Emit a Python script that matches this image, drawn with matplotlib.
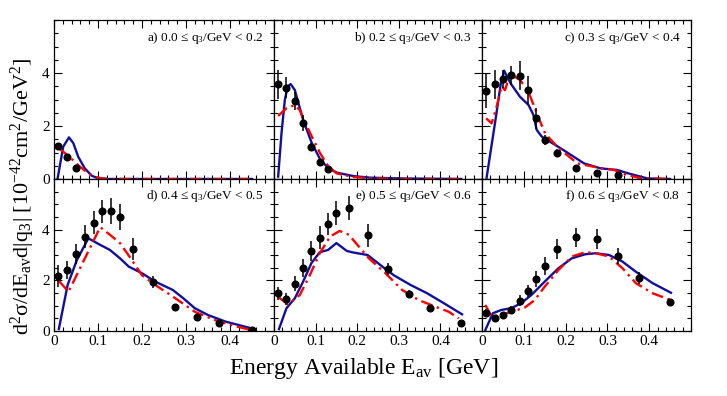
import numpy as np
import matplotlib.pyplot as plt
from matplotlib.ticker import MultipleLocator

plt.rcParams['font.family'] = ['Liberation Serif', 'DejaVu Serif']
plt.rcParams['mathtext.fontset'] = 'custom'
plt.rcParams['mathtext.rm'] = 'Liberation Serif'
plt.rcParams['mathtext.it'] = 'Liberation Serif:italic'

#-----------------------------------------------------------------------------------------#
# data

e_av = [0.01, 0.03, 0.05, 0.07, 0.09, 0.11, 0.13, 0.15, 0.18, 0.225, 0.275, 0.325, 0.375, 0.45]

labels = ['a) 0.0 ≤ q$_3$/GeV < 0.2', 'b) 0.2 ≤ q$_3$/GeV < 0.3', 'c) 0.3 ≤ q$_3$/GeV < 0.4',
          'd) 0.4 ≤ q$_3$/GeV < 0.5', 'e) 0.5 ≤ q$_3$/GeV < 0.6', 'f) 0.6 ≤ q$_3$/GeV < 0.8']

data_a = [1.25, 0.83, 0.41]
err_a = [0.10, 0.08, 0.05]
data_b = [3.58, 3.45, 2.94, 2.10, 1.22, 0.65, 0.37]
err_b = [0.55, 0.40, 0.35, 0.30, 0.15, 0.08, 0.05]
data_c = [3.32, 3.57, 3.78, 3.91, 3.89, 3.35, 2.29, 1.47, 1.00, 0.43, 0.24, 0.15]
err_c = [0.65, 0.55, 0.35, 0.35, 0.55, 0.55, 0.40, 0.20, 0.12, 0.06, 0.04, 0.03]
data_d = [2.17, 2.41, 3.03, 3.73, 4.28, 4.72, 4.74, 4.50, 3.24, 1.95, 0.93, 0.54, 0.30, 0.05]
err_d = [0.43, 0.35, 0.40, 0.45, 0.45, 0.46, 0.50, 0.53, 0.45, 0.24, 0.06, 0.05, 0.04, 0.03]
data_e = [1.49, 1.26, 1.86, 2.50, 3.16, 3.69, 4.22, 4.65, 4.85, 3.77, 2.44, 1.46, 0.90, 0.33]
err_e = [0.25, 0.25, 0.30, 0.35, 0.40, 0.45, 0.45, 0.48, 0.48, 0.44, 0.24, 0.15, 0.10, 0.05]
data_f = [0.70, 0.53, 0.63, 0.84, 1.19, 1.58, 2.04, 2.57, 3.24, 3.70, 3.62, 2.96, 2.08, 1.16]
err_f = [0.15, 0.10, 0.12, 0.13, 0.22, 0.25, 0.32, 0.36, 0.41, 0.38, 0.40, 0.33, 0.23, 0.10]

# blue solid model
blue_x_a = [0.008, 0.021, 0.034, 0.044, 0.055, 0.07, 0.086, 0.1, 0.125, 0.45]
blue_y_a = [0.0, 1.22, 1.57, 1.35, 0.84, 0.40, 0.12, 0.03, 0.0, 0.0]
blue_x_b = [0.01, 0.018, 0.026, 0.033, 0.04, 0.05, 0.07, 0.091, 0.111, 0.131, 0.151, 0.191, 0.231, 0.31, 0.45]
blue_y_b = [0.09, 1.72, 2.98, 3.5, 3.58, 3.36, 2.23, 1.35, 0.74, 0.40, 0.24, 0.11, 0.05, 0.02, 0.0]
blue_x_c = [0.011, 0.031, 0.045, 0.053, 0.062, 0.071, 0.091, 0.111, 0.123, 0.131, 0.143, 0.195,
            0.244, 0.284, 0.324, 0.348, 0.396, 0.45]
blue_y_c = [0.05, 2.1, 3.6, 4.09, 3.8, 3.55, 3.1, 2.8, 2.42, 1.85, 1.6, 1.09, 0.59, 0.4, 0.34, 0.22, 0.02, 0.0]
blue_x_d = [0.011, 0.031, 0.052, 0.078, 0.105, 0.127, 0.15, 0.17, 0.2, 0.23, 0.27, 0.294, 0.32, 0.35, 0.39, 0.45]
blue_y_d = [0.08, 1.82, 2.8, 3.66, 3.4, 3.2, 2.87, 2.54, 2.28, 1.95, 1.62, 1.29, 0.9, 0.63, 0.37, 0.1]
blue_x_e = [0.012, 0.03, 0.05, 0.07, 0.09, 0.11, 0.13, 0.15, 0.175, 0.19, 0.225, 0.256, 0.288, 0.328,
            0.368, 0.408, 0.452]
blue_y_e = [0.08, 0.9, 1.29, 1.95, 2.68, 3.11, 3.2, 3.47, 3.16, 3.1, 3.0, 2.6, 2.2, 1.82, 1.49, 1.1, 0.66]
blue_x_f = [0.008, 0.026, 0.046, 0.07, 0.094, 0.118, 0.15, 0.183, 0.215, 0.247, 0.272, 0.304, 0.336,
            0.368, 0.408, 0.452]
blue_y_f = [0.04, 0.7, 0.83, 0.9, 1.1, 1.42, 1.95, 2.48, 2.87, 3.03, 3.07, 3.0, 2.74, 2.34, 1.89, 1.51]

# red dash-dot model
red_x_a = [0.011, 0.035, 0.057, 0.08, 0.1, 0.12, 0.45]
red_y_a = [1.16, 0.84, 0.49, 0.19, 0.05, 0.0, 0.0]
red_x_b = [0.01, 0.03, 0.05, 0.062, 0.07, 0.091, 0.111, 0.131, 0.151, 0.19, 0.231, 0.3, 0.45]
red_y_b = [2.38, 2.67, 2.79, 2.6, 2.29, 1.6, 0.97, 0.47, 0.21, 0.08, 0.03, 0.0, 0.0]
red_x_c = [0.01, 0.023, 0.035, 0.047, 0.055, 0.065, 0.071, 0.091, 0.111, 0.131, 0.151, 0.18, 0.204,
           0.228, 0.268, 0.316, 0.348, 0.38, 0.45]
red_y_c = [2.29, 2.1, 2.73, 3.5, 3.35, 3.85, 3.92, 3.74, 3.3, 2.48, 1.72, 1.22, 0.9, 0.59, 0.46, 0.34,
           0.15, 0.03, 0.0]
red_x_d = [0.011, 0.033, 0.105, 0.127, 0.15, 0.177, 0.2, 0.23, 0.276, 0.32, 0.366, 0.41, 0.45]
red_y_d = [1.98, 1.55, 4.1, 3.8, 3.47, 2.8, 2.2, 1.82, 1.29, 0.76, 0.43, 0.2, 0.03]
red_x_e = [0.012, 0.034, 0.062, 0.086, 0.11, 0.135, 0.158, 0.18, 0.204, 0.228, 0.268, 0.308, 0.348,
           0.388, 0.42, 0.444]
red_y_e = [1.32, 1.05, 1.42, 2.2, 3.07, 3.73, 3.95, 3.8, 3.33, 2.87, 2.28, 1.62, 1.22, 0.96, 0.76, 0.5]
red_x_f = [0.008, 0.023, 0.047, 0.07, 0.102, 0.126, 0.15, 0.183, 0.215, 0.247, 0.272, 0.304, 0.336,
           0.368, 0.408, 0.452]
red_y_f = [1.03, 0.57, 0.63, 0.76, 0.92, 1.22, 1.75, 2.41, 2.94, 3.11, 3.07, 2.94, 2.48, 1.89, 1.49, 1.22]

#-----------------------------------------------------------------------------------------#

panels = [
    (data_a, err_a, blue_x_a, blue_y_a, red_x_a, red_y_a),
    (data_b, err_b, blue_x_b, blue_y_b, red_x_b, red_y_b),
    (data_c, err_c, blue_x_c, blue_y_c, red_x_c, red_y_c),
    (data_d, err_d, blue_x_d, blue_y_d, red_x_d, red_y_d),
    (data_e, err_e, blue_x_e, blue_y_e, red_x_e, red_y_e),
    (data_f, err_f, blue_x_f, blue_y_f, red_x_f, red_y_f),
]

W, H = 727, 396
cols = [(54, 274), (274, 482), (482, 691)]
rows = [(20, 179), (179, 331)]

fig = plt.figure(figsize=(W / 100, H / 100), dpi=100)

for i, (data, err, bx, by, rx, ry) in enumerate(panels):
    r, c = divmod(i, 3)
    x0, x1 = cols[c]
    y0, y1 = rows[r]
    ax = fig.add_axes([x0 / W, 1 - y1 / H, (x1 - x0) / W, (y1 - y0) / H])
    ax.plot(bx, by, color='#10109c', lw=1.7, zorder=2)
    ax.plot(rx, ry, color='red', lw=1.7, ls=(0, (5, 2, 1, 2)), zorder=2)
    ax.errorbar(e_av[:len(data)], data, yerr=err, fmt='o', color='black', ms=4.8,
                elinewidth=1.1, capsize=0, zorder=3)
    ax.set_xlim(0, 0.5)
    ax.set_ylim(0, 6)
    ax.xaxis.set_major_locator(MultipleLocator(0.1))
    ax.xaxis.set_minor_locator(MultipleLocator(0.02))
    ax.yaxis.set_major_locator(MultipleLocator(2))
    ax.yaxis.set_minor_locator(MultipleLocator(0.5))
    ax.tick_params(which='both', direction='in', top=True, right=True, labelsize=11, colors='black')
    ax.tick_params(which='major', length=6, width=0.8, pad=3)
    ax.tick_params(which='minor', length=3, width=0.8)
    for s in ax.spines.values():
        s.set_linewidth(0.9)
    if c == 0:
        ax.set_yticks([0, 2, 4])
        ax.set_yticklabels(['0', '2', '4'])
    else:
        ax.set_yticklabels([])
    if r == 1:
        ax.set_xticks([0, 0.1, 0.2, 0.3, 0.4])
        ax.set_xticklabels(['0', '0.1', '0.2', '0.3', '0.4'])
    else:
        ax.set_xticklabels([])
    ax.text(0.95, 0.885, labels[i], transform=ax.transAxes, ha='right', va='center', fontsize=9.5)

fig.text(0.032, 0.505, r'$\mathregular{d^2\sigma/dE_{av}d|q_3|\ [10^{-42}cm^2/GeV^2]}$',
         rotation=90, ha='center', va='center', fontsize=16)
fig.text(0.5, 0.07, r'Energy Available E$_{\rm av}$ [GeV]', ha='center', va='center', fontsize=17)

fig.savefig('out.png', dpi=100)
